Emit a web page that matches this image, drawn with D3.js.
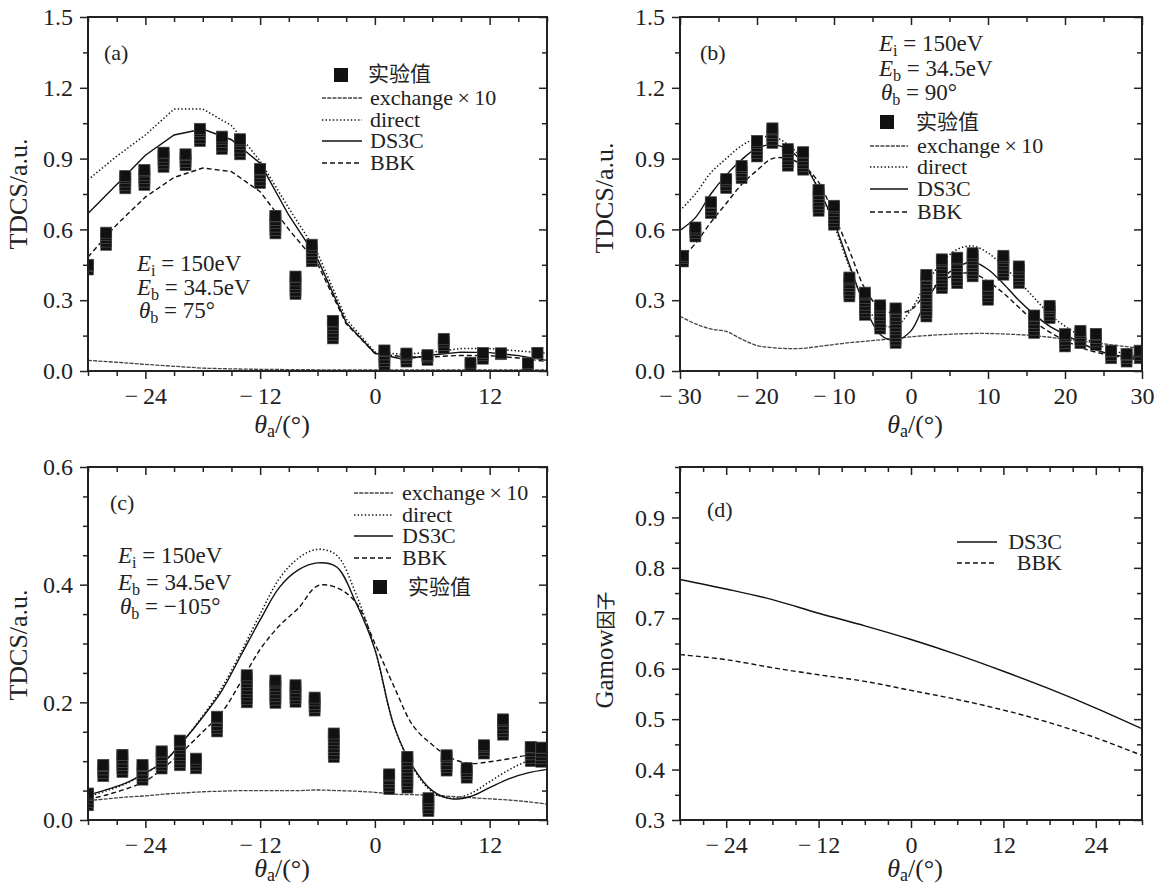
<!DOCTYPE html>
<html>
<head>
<meta charset="utf-8">
<script src="https://cdn.jsdelivr.net/npm/d3@7"></script>
<style>
body { margin: 0; background: #fff; }
svg text { font-family: "Liberation Serif", "DejaVu Serif", serif; fill: #222; }
svg text.cjk, svg tspan.cjk { font-family: "Noto Sans CJK SC", sans-serif; }
</style>
</head>
<body>
<div id="container"></div>
<script>
var width = 1161;
var height = 888;

// ---- panel (a): theta_b = 75 ----
var angA    = [-30, -27, -24, -21, -18, -15, -12, -9, -6, -3, 0, 3, 6, 9, 12, 15, 18];
var exchA   = [0.045, 0.037, 0.028, 0.02, 0.012, 0.009, 0.007, 0.006, 0.005, 0.005, 0.005, 0.005, 0.005, 0.005, 0.005, 0.005, 0.005];
var directA = [0.81, 0.91, 1.0, 1.11, 1.11, 1.04, 0.89, 0.69, 0.5, 0.22, 0.08, 0.07, 0.08, 0.095, 0.095, 0.085, 0.075];
var ds3cA   = [0.667, 0.79, 0.914, 1.0, 1.025, 0.98, 0.88, 0.66, 0.475, 0.205, 0.075, 0.05, 0.068, 0.08, 0.078, 0.065, 0.045];
var bbkA    = [0.483, 0.62, 0.737, 0.82, 0.86, 0.845, 0.76, 0.6, 0.455, 0.2, 0.075, 0.06, 0.06, 0.066, 0.065, 0.055, 0.04];
var expAngA = [-30, -28.1, -26.1, -24.1, -22.1, -19.8, -18.3, -16, -14.1, -12, -10.4, -8.3, -6.6, -4.4, 1, 3.3, 5.5, 7.2, 10, 11.3, 13.2, 16, 17];
var expA    = [0.44, 0.56, 0.8, 0.82, 0.895, 0.895, 1.0, 0.967, 0.95, 0.826, 0.62, 0.363, 0.5, 0.175, 0.057, 0.057, 0.057, 0.116, 0.03, 0.064, 0.073, 0.03, 0.076];
var errA    = [0.01, 0.026, 0.026, 0.032, 0.03, 0.023, 0.026, 0.026, 0.032, 0.03, 0.037, 0.037, 0.035, 0.037, 0.03, 0.017, 0.01, 0.02, 0.005, 0.012, 0.002, 0.003, 0];

// ---- panel (b): theta_b = 90 ----
var angB    = [-30, -28, -26, -24, -22, -20, -18, -16, -14, -12, -10, -8, -6, -4, -2, 0, 2, 4, 6, 8, 10, 12, 14, 16, 18, 20, 22, 24, 26, 28, 30];
var exchB   = [0.232, 0.2, 0.178, 0.168, 0.135, 0.108, 0.099, 0.095, 0.096, 0.104, 0.112, 0.12, 0.126, 0.132, 0.138, 0.145, 0.15, 0.154, 0.157, 0.159, 0.159, 0.157, 0.154, 0.15, 0.143, 0.135, 0.127, 0.119, 0.111, 0.103, 0.095];
var directB = [0.68, 0.75, 0.84, 0.9, 0.955, 0.986, 0.993, 0.96, 0.89, 0.77, 0.62, 0.44, 0.29, 0.2, 0.19, 0.26, 0.37, 0.46, 0.515, 0.53, 0.5, 0.445, 0.38, 0.31, 0.24, 0.19, 0.15, 0.115, 0.09, 0.07, 0.055];
var ds3cB   = [0.596, 0.65, 0.75, 0.83, 0.895, 0.944, 0.958, 0.94, 0.88, 0.77, 0.63, 0.45, 0.275, 0.155, 0.13, 0.17, 0.3, 0.39, 0.44, 0.463, 0.43, 0.37, 0.3, 0.24, 0.19, 0.155, 0.12, 0.09, 0.07, 0.06, 0.05];
var bbkB    = [0.47, 0.54, 0.63, 0.71, 0.79, 0.85, 0.9, 0.9, 0.87, 0.8, 0.66, 0.51, 0.35, 0.265, 0.245, 0.26, 0.33, 0.38, 0.41, 0.414, 0.38, 0.33, 0.27, 0.21, 0.165, 0.13, 0.1, 0.08, 0.065, 0.055, 0.045];
var expAngB = [-29.6, -28, -26, -24, -22, -20, -18, -16, -14, -12, -10, -8, -6, -4, -2, 2, 4, 6, 8, 10, 12, 14, 16, 18, 20, 22, 24, 26, 28, 29.7];
var expB    = [0.476, 0.589, 0.692, 0.794, 0.843, 0.942, 0.997, 0.905, 0.89, 0.723, 0.66, 0.356, 0.285, 0.229, 0.192, 0.319, 0.412, 0.426, 0.45, 0.332, 0.448, 0.408, 0.198, 0.25, 0.13, 0.144, 0.134, 0.07, 0.056, 0.07];
var errB    = [0.012, 0.019, 0.023, 0.019, 0.026, 0.033, 0.031, 0.035, 0.037, 0.044, 0.04, 0.04, 0.047, 0.049, 0.073, 0.088, 0.061, 0.054, 0.049, 0.03, 0.04, 0.035, 0.037, 0.026, 0.026, 0.026, 0.023, 0.016, 0.016, 0.016];

// ---- panel (c): theta_b = -105 ----
var angC    = [-30, -28, -26, -24, -22, -20, -18, -16, -14, -12, -10, -8, -6, -4, -2, 0, 2, 4, 6, 8, 10, 12, 14, 16, 18];
var exchC   = [0.033, 0.036, 0.039, 0.041, 0.044, 0.046, 0.048, 0.049, 0.05, 0.05, 0.05, 0.05, 0.051, 0.05, 0.049, 0.047, 0.044, 0.043, 0.042, 0.04, 0.038, 0.036, 0.034, 0.031, 0.027];
var directC = [0.04, 0.05, 0.062, 0.08, 0.1, 0.135, 0.177, 0.225, 0.285, 0.35, 0.41, 0.445, 0.46, 0.45, 0.385, 0.29, 0.16, 0.088, 0.048, 0.037, 0.045, 0.065, 0.085, 0.1, 0.105];
var ds3cC   = [0.042, 0.052, 0.063, 0.08, 0.1, 0.135, 0.175, 0.22, 0.28, 0.34, 0.395, 0.425, 0.437, 0.43, 0.37, 0.29, 0.16, 0.09, 0.05, 0.036, 0.04, 0.055, 0.07, 0.08, 0.086];
var bbkC    = [0.035, 0.043, 0.053, 0.066, 0.09, 0.118, 0.15, 0.183, 0.235, 0.29, 0.33, 0.36, 0.398, 0.395, 0.37, 0.3, 0.227, 0.16, 0.128, 0.105, 0.096, 0.099, 0.104, 0.11, 0.11];
var expAngC = [-30, -28.4, -26.4, -24.3, -22.3, -20.4, -18.7, -16.5, -13.4, -10.4, -8.3, -6.3, -4.3, 1.5, 3.4, 5.6, 7.5, 9.6, 11.4, 13.4, 16.3, 17.4];
var expC    = [0.035, 0.084, 0.096, 0.081, 0.102, 0.114, 0.096, 0.163, 0.223, 0.218, 0.215, 0.197, 0.127, 0.065, 0.081, 0.026, 0.097, 0.08, 0.12, 0.158, 0.112, 0.111];
var errC    = [0.01, 0.0096, 0.0145, 0.0125, 0.0145, 0.021, 0.0082, 0.0125, 0.023, 0.019, 0.014, 0.011, 0.02, 0.0125, 0.026, 0.011, 0.013, 0.008, 0.007, 0.013, 0.012, 0.012];

// ---- panel (d): Gamow factor ----
var angD  = [-30, -24, -18, -12, -6, 0, 6, 12, 18, 24, 30];
var ds3cD = [0.777, 0.758, 0.737, 0.71, 0.685, 0.658, 0.628, 0.595, 0.56, 0.522, 0.481];
var bbkD  = [0.628, 0.618, 0.602, 0.588, 0.575, 0.557, 0.539, 0.518, 0.493, 0.463, 0.428];

// tick values
var xMajA = [-24, -12, 0, 12];
var xMinA = [-30, -27, -21, -18, -15, -9, -6, -3, 3, 6, 9, 15, 18];
var xMajB = [-30, -20, -10, 0, 10, 20, 30];
var xMinB = [-25, -15, -5, 5, 15, 25];
var xMajD = [-24, -12, 0, 12, 24];
var xMinD = [-30, -27, -21, -18, -15, -9, -6, -3, 3, 6, 9, 15, 18, 21, 27, 30];
var yMajAB = [0, 0.3, 0.6, 0.9, 1.2, 1.5];
var yMinAB = [0.15, 0.45, 0.75, 1.05, 1.35];
var yMajC = [0, 0.2, 0.4, 0.6];
var yMinC = [0.05, 0.1, 0.15, 0.25, 0.3, 0.35, 0.45, 0.5, 0.55];
var yMajD = [0.3, 0.4, 0.5, 0.6, 0.7, 0.8, 0.9];
var yMinD = [0.35, 0.45, 0.55, 0.65, 0.75, 0.85, 0.95, 1.0];

var lineStyle = {
    exch:   { dash: "4,1.2", w: 1.3, c: "#444" },
    direct: { dash: "1.4,2.2", w: 1.5, c: "#111" },
    ds3c:   { dash: null, w: 1.4, c: "#111" },
    bbk:    { dash: "5,3", w: 1.4, c: "#111" }
};

var svg = d3.select("#container").append("svg")
    .attr("width", width)
    .attr("height", height)
    .style("background", "#fff");

function zip(a, b) {
    return a.map(function(v, i) { return [v, b[i]]; });
}

function fmtX(v) {
    return v < 0 ? "\u2212\u2009" + Math.abs(v) : String(v);
}

function styleAxis(g) {
    g.select(".domain").remove();
    g.attr("font-family", null).attr("font-size", 24);
    g.selectAll(".tick line").attr("stroke", "#222").attr("stroke-width", 1.5);
    g.selectAll(".tick text").attr("fill", "#222");
}

function panel(o) {
    var b = o.box;
    var x = d3.scaleLinear().domain(o.xDomain).range([b[0], b[2]]);
    var y = d3.scaleLinear().domain(o.yDomain).range([b[3], b[1]]);
    var g = svg.append("g");

    var clipId = "clip-" + o.name;
    svg.append("clipPath").attr("id", clipId).append("rect")
        .attr("x", b[0]).attr("y", b[1]).attr("width", b[2] - b[0]).attr("height", b[3] - b[1]);

    // bottom axis (outward ticks with labels)
    g.append("g").attr("transform", "translate(0," + b[3] + ")")
        .call(d3.axisBottom(x).tickValues(o.xMajor).tickSize(8).tickPadding(8).tickFormat(fmtX))
        .call(styleAxis);
    g.append("g").attr("transform", "translate(0," + b[3] + ")")
        .call(d3.axisBottom(x).tickValues(o.xMinor).tickSize(5).tickFormat(""))
        .call(styleAxis);
    // top axis (ticks inward)
    g.append("g").attr("transform", "translate(0," + b[1] + ")")
        .call(d3.axisBottom(x).tickValues(o.xMajor).tickSize(8).tickFormat(""))
        .call(styleAxis);
    g.append("g").attr("transform", "translate(0," + b[1] + ")")
        .call(d3.axisBottom(x).tickValues(o.xMinor).tickSize(5).tickFormat(""))
        .call(styleAxis);
    // left axis
    g.append("g").attr("transform", "translate(" + b[0] + ",0)")
        .call(d3.axisLeft(y).tickValues(o.yMajor).tickSize(8).tickPadding(7).tickFormat(d3.format(".1f")))
        .call(styleAxis);
    g.append("g").attr("transform", "translate(" + b[0] + ",0)")
        .call(d3.axisLeft(y).tickValues(o.yMinor).tickSize(5).tickFormat(""))
        .call(styleAxis);
    // right axis (ticks inward)
    g.append("g").attr("transform", "translate(" + b[2] + ",0)")
        .call(d3.axisLeft(y).tickValues(o.yMajor).tickSize(8).tickFormat(""))
        .call(styleAxis);
    g.append("g").attr("transform", "translate(" + b[2] + ",0)")
        .call(d3.axisLeft(y).tickValues(o.yMinor).tickSize(5).tickFormat(""))
        .call(styleAxis);

    var plot = g.append("g").attr("clip-path", "url(#" + clipId + ")");

    var line = d3.line()
        .x(function(d) { return x(d[0]); })
        .y(function(d) { return y(d[1]); })
        .curve(o.curve);

    o.series.forEach(function(s) {
        var st = lineStyle[s.key];
        plot.append("path")
            .datum(s.data)
            .attr("d", line)
            .attr("fill", "none")
            .attr("stroke", st.c)
            .attr("stroke-width", st.w)
            .attr("stroke-dasharray", st.dash);
    });

    // experimental points: column of overlapping squares spanning the error bar
    if (o.exp) {
        var sq = 11;
        o.exp.forEach(function(p) {
            var top = y(p[1] + p[2]), bot = y(p[1] - p[2]);
            var cx = x(p[0]);
            var col = plot.append("g");
            for (var yy = bot; yy >= top - 0.01; yy -= 3.4) {
                col.append("rect")
                    .attr("x", cx - sq / 2).attr("y", yy - sq / 2)
                    .attr("width", sq).attr("height", sq)
                    .attr("fill", "#111").attr("stroke", "#5a5a5a").attr("stroke-width", 0.6);
            }
            col.append("rect")
                .attr("x", cx - sq / 2).attr("y", top - sq / 2)
                .attr("width", sq).attr("height", sq)
                .attr("fill", "#111").attr("stroke", "#444").attr("stroke-width", 0.8);
        });
    }

    // frame
    g.append("rect")
        .attr("x", b[0]).attr("y", b[1])
        .attr("width", b[2] - b[0]).attr("height", b[3] - b[1])
        .attr("fill", "none").attr("stroke", "#222").attr("stroke-width", 2);

    return g;
}

function text(g, x, y, str, size, anchor, cls) {
    return g.append("text")
        .attr("class", cls || null)
        .attr("x", x).attr("y", y)
        .attr("font-size", size)
        .attr("text-anchor", anchor || "start")
        .text(str);
}

function mathText(g, x, y, sym, sub, rest, size) {
    var t = g.append("text")
        .attr("x", x).attr("y", y)
        .attr("font-size", size);
    t.append("tspan").attr("font-style", "italic").text(sym);
    t.append("tspan").attr("font-size", size * 0.7).attr("dy", size * 0.22).text(sub);
    t.append("tspan").attr("dy", -size * 0.22).text(rest);
    return t;
}

function xTitle(g, cx, y) {
    var t = g.append("text")
        .attr("x", cx).attr("y", y)
        .attr("text-anchor", "middle")
        .attr("font-size", 26);
    t.append("tspan").attr("font-style", "italic").text("\u03b8");
    t.append("tspan").attr("font-size", 18).attr("dy", 4).text("a");
    t.append("tspan").attr("dy", -4).text("/(\u00b0)");
}

function yTitle(g, x, cy, str) {
    g.append("text")
        .attr("transform", "translate(" + x + "," + cy + ") rotate(-90)")
        .attr("text-anchor", "middle")
        .attr("font-size", 26)
        .text(str);
}

function legendLine(g, x0, x1, y, key) {
    var st = lineStyle[key];
    g.append("line")
        .attr("x1", x0).attr("x2", x1).attr("y1", y).attr("y2", y)
        .attr("stroke", st.c).attr("stroke-width", st.w)
        .attr("stroke-dasharray", st.dash);
}

function legendSquare(g, cx, cy) {
    g.append("rect")
        .attr("x", cx - 7).attr("y", cy - 7).attr("width", 14).attr("height", 14)
        .attr("fill", "#111");
}

function exchLabel(g, x, y) {
    text(g, x, y, "exchange\u2009\u00d7\u200910", 22);
}

// ===== (a) =====
var gA = panel({
    name: "a", box: [88, 17, 547, 371],
    xDomain: [-30, 18], yDomain: [0, 1.5],
    xMajor: xMajA, xMinor: xMinA, yMajor: yMajAB, yMinor: yMinAB,
    curve: d3.curveLinear,
    series: [
        { key: "exch", data: zip(angA, exchA) },
        { key: "direct", data: zip(angA, directA) },
        { key: "ds3c", data: zip(angA, ds3cA) },
        { key: "bbk", data: zip(angA, bbkA) }
    ],
    exp: expAngA.map(function(v, i) { return [v, expA[i], errA[i]]; })
});
text(gA, 104, 60, "(a)", 22);
legendSquare(gA, 341, 75);
text(gA, 368, 81, "实验值", 21, "start", "cjk");
legendLine(gA, 322, 362, 98, "exch");   exchLabel(gA, 370, 105);
legendLine(gA, 322, 362, 120, "direct"); text(gA, 370, 127, "direct", 22);
legendLine(gA, 322, 362, 141, "ds3c");   text(gA, 370, 148, "DS3C", 22);
legendLine(gA, 322, 362, 163, "bbk");    text(gA, 370, 170, "BBK", 22);
mathText(gA, 137, 271, "E", "i", " = 150eV", 23);
mathText(gA, 137, 295, "E", "b", " = 34.5eV", 23);
mathText(gA, 139, 318, "\u03b8", "b", " = 75\u00b0", 23);
xTitle(gA, 282, 433);
yTitle(gA, 27, 194, "TDCS/a.u.");

// ===== (b) =====
var gB = panel({
    name: "b", box: [680, 17, 1142, 371],
    xDomain: [-30, 30], yDomain: [0, 1.5],
    xMajor: xMajB, xMinor: xMinB, yMajor: yMajAB, yMinor: yMinAB,
    curve: d3.curveCatmullRom,
    series: [
        { key: "exch", data: zip(angB, exchB) },
        { key: "direct", data: zip(angB, directB) },
        { key: "ds3c", data: zip(angB, ds3cB) },
        { key: "bbk", data: zip(angB, bbkB) }
    ],
    exp: expAngB.map(function(v, i) { return [v, expB[i], errB[i]]; })
});
text(gB, 700, 60, "(b)", 22);
mathText(gB, 879, 51, "E", "i", " = 150eV", 23);
mathText(gB, 879, 76, "E", "b", " = 34.5eV", 23);
mathText(gB, 881, 100, "\u03b8", "b", " = 90\u00b0", 23);
legendSquare(gB, 887, 122);
text(gB, 916, 129, "实验值", 21, "start", "cjk");
legendLine(gB, 870, 908, 146, "exch");   exchLabel(gB, 917, 153);
legendLine(gB, 870, 908, 167, "direct"); text(gB, 917, 174, "direct", 22);
legendLine(gB, 870, 908, 189, "ds3c");   text(gB, 917, 196, "DS3C", 22);
legendLine(gB, 870, 908, 212, "bbk");    text(gB, 917, 219, "BBK", 22);
xTitle(gB, 915, 433);
yTitle(gB, 613, 198, "TDCS/a.u.");

// ===== (c) =====
var gC = panel({
    name: "c", box: [88, 467, 547, 820],
    xDomain: [-30, 18], yDomain: [0, 0.6],
    xMajor: xMajA, xMinor: xMinA, yMajor: yMajC, yMinor: yMinC,
    curve: d3.curveCatmullRom,
    series: [
        { key: "exch", data: zip(angC, exchC) },
        { key: "direct", data: zip(angC, directC) },
        { key: "ds3c", data: zip(angC, ds3cC) },
        { key: "bbk", data: zip(angC, bbkC) }
    ],
    exp: expAngC.map(function(v, i) { return [v, expC[i], errC[i]]; })
});
text(gC, 110, 510, "(c)", 22);
legendLine(gC, 354, 393, 493, "exch");   exchLabel(gC, 402, 500);
legendLine(gC, 354, 393, 515, "direct"); text(gC, 402, 522, "direct", 22);
legendLine(gC, 354, 393, 536, "ds3c");   text(gC, 402, 543, "DS3C", 22);
legendLine(gC, 354, 393, 558, "bbk");    text(gC, 402, 565, "BBK", 22);
legendSquare(gC, 380, 587);
text(gC, 408, 594, "实验值", 21, "start", "cjk");
mathText(gC, 118, 563, "E", "i", " = 150eV", 23);
mathText(gC, 118, 590, "E", "b", " = 34.5eV", 23);
mathText(gC, 120, 614, "\u03b8", "b", " = \u2212105\u00b0", 23);
xTitle(gC, 282, 877);
yTitle(gC, 27, 645, "TDCS/a.u.");

// ===== (d) =====
var gD = panel({
    name: "d", box: [680, 467, 1142, 820],
    xDomain: [-30, 30], yDomain: [0.3, 1.0],
    xMajor: xMajD, xMinor: xMinD, yMajor: yMajD, yMinor: yMinD,
    curve: d3.curveCatmullRom,
    series: [
        { key: "ds3c", data: zip(angD, ds3cD) },
        { key: "bbk", data: zip(angD, bbkD) }
    ]
});
text(gD, 707, 517, "(d)", 22);
legendLine(gD, 957, 997, 542, "ds3c"); text(gD, 1062, 549, "DS3C", 22, "end");
legendLine(gD, 957, 997, 563, "bbk");  text(gD, 1062, 570, "BBK", 22, "end");
xTitle(gD, 915, 877);
var gt = gD.append("text")
    .attr("transform", "translate(613,650) rotate(-90)")
    .attr("text-anchor", "middle");
gt.append("tspan").attr("font-size", 25).text("Gamow");
gt.append("tspan").attr("class", "cjk").attr("font-size", 19).text("因子");
</script>
</body>
</html>
